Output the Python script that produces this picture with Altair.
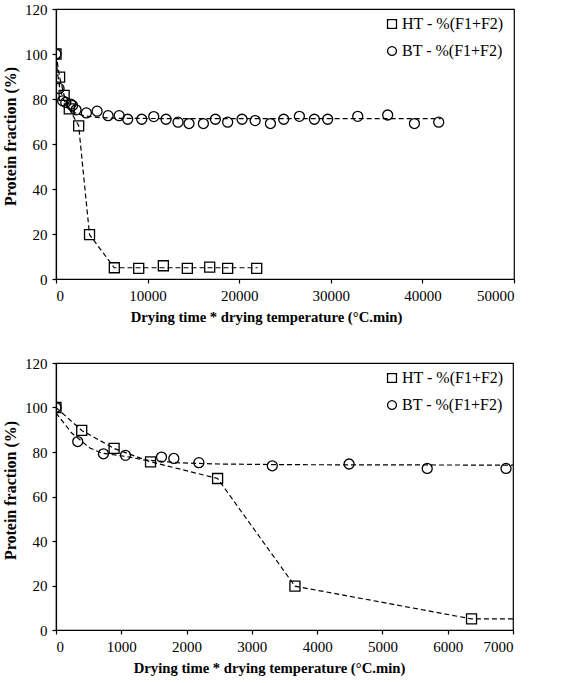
import altair as alt
import pandas as pd

# ---- data ----
ht_x = [0, 394, 890, 1448, 2475, 3660, 6365, 9030, 11720, 14340, 16780, 18740, 21910]
ht_y = [100, 89.7, 81.6, 75.6, 68.1, 19.7, 5.0, 4.7, 5.9, 4.7, 5.3, 4.7, 4.7]

bt_x = [0, 333, 727, 1064, 1616, 1805, 2189, 3313, 4489, 5686, 6893, 7830, 9360,
        10670, 12010, 13320, 14520, 16090, 17400, 18740, 20310, 21740, 23410,
        24860, 26570, 28210, 29660, 32940, 36210, 39130, 41780]
bt_y = [100, 84.7, 79.2, 78.5, 77.7, 77.1, 75.2, 73.8, 74.6, 72.6, 72.6, 71.0, 71.0,
        72.2, 71.0, 69.7, 69.1, 69.1, 71.0, 69.7, 71.0, 70.4, 69.1,
        71.0, 72.3, 71.0, 71.0, 72.3, 72.9, 69.1, 69.7]

# dashed fitted curves
ht_fit_x = [0, 394, 890, 1448, 2475, 3660, 6365, 22000]
ht_fit_y = [100, 89.7, 81.6, 75.6, 68.1, 19.7, 5.0, 5.0]

bt_fit_top_x = [0, 150, 400, 800, 1300, 2000, 3000, 4500, 7000, 12000, 42000]
bt_fit_top_y = [98, 92, 85, 80, 76.5, 74, 72.6, 71.8, 71.4, 71.3, 71.3]

bt_fit_bot_x = [0, 240, 520, 700, 1070, 1340, 1850, 2500, 3500, 7000]
bt_fit_bot_y = [97.6, 88.5, 81.8, 79.5, 78.0, 76.5, 75.2, 74.6, 74.3, 74.1]

HT = "HT - %(F1+F2)"
BT = "BT - %(F1+F2)"
series_order = [HT, BT]

pts = pd.concat([
    pd.DataFrame({"x": ht_x, "y": ht_y, "s": HT}),
    pd.DataFrame({"x": bt_x, "y": bt_y, "s": BT}),
])

fit_top = pd.concat([
    pd.DataFrame({"x": ht_fit_x, "y": ht_fit_y, "s": HT}),
    pd.DataFrame({"x": bt_fit_top_x, "y": bt_fit_top_y, "s": BT}),
])
fit_bot = pd.concat([
    pd.DataFrame({"x": ht_fit_x, "y": ht_fit_y, "s": HT}),
    pd.DataFrame({"x": bt_fit_bot_x, "y": bt_fit_bot_y, "s": BT}),
])

XTITLE = "Drying time * drying temperature (°C.min)"
YTITLE = "Protein fraction (%)"
FONT = "Liberation Serif, Times New Roman, serif"


def panel(fit_df, xmax, xstep, w, h, xtitle_x, ytitle_y):
    xs = alt.Scale(domain=[0, xmax], nice=False)
    ys = alt.Scale(domain=[0, 120], nice=False)
    xax = alt.Axis(values=list(range(0, xmax + 1, xstep)), title=XTITLE, format="d",
                   titleX=xtitle_x)
    yax = alt.Axis(values=list(range(0, 121, 20)), title=YTITLE,
                   titleFontSize=16, titleY=ytitle_y)
    lines = alt.Chart(fit_df).mark_line(
        color="black", strokeDash=[5, 3], strokeWidth=1.2, clip=True
    ).encode(
        x=alt.X("x:Q", scale=xs, axis=xax),
        y=alt.Y("y:Q", scale=ys, axis=yax),
        detail="s:N",
        order=alt.Order("x:Q"),
    )
    points = alt.Chart(pts).mark_point(
        filled=False, color="black", strokeWidth=1.3, size=100, opacity=1, clip=True
    ).encode(
        x=alt.X("x:Q", scale=xs),
        y=alt.Y("y:Q", scale=ys),
        shape=alt.Shape(
            "s:N",
            scale=alt.Scale(domain=series_order, range=["square", "circle"]),
            legend=alt.Legend(
                title=None, orient="none", legendX=328, legendY=7,
                labelFontSize=16, labelFont=FONT, labelColor="black",
                symbolStrokeColor="black", symbolStrokeWidth=1.3, symbolSize=80,
                rowPadding=11, labelOffset=2, padding=0,
            ),
        ),
    )
    return alt.layer(lines, points).properties(width=w, height=h)


top = panel(fit_top, 50000, 10000, 458, 270, 210, 127)
bot = panel(fit_bot, 7000, 1000, 457, 267, 213, 127)

chart = alt.vconcat(top, bot, spacing=30).resolve_scale(
    shape="independent"
).resolve_legend(shape="independent").properties(
    padding={"left": 1, "top": 1, "right": 5, "bottom": 5}
).configure(
    font=FONT
).configure_view(
    stroke="black", strokeWidth=1.2
).configure_axis(
    grid=False, domainColor="black", domainWidth=1.2, tickColor="black",
    tickSize=4, tickWidth=1.2, labelColor="black", labelFontSize=15,
    labelFont=FONT, titleFont=FONT,
    titleFontSize=14.7, titleFontWeight="bold", titleColor="black",
    labelPadding=5, titlePadding=6,
)

chart.save("out.html", embed_options={"renderer": "svg", "actions": False})
